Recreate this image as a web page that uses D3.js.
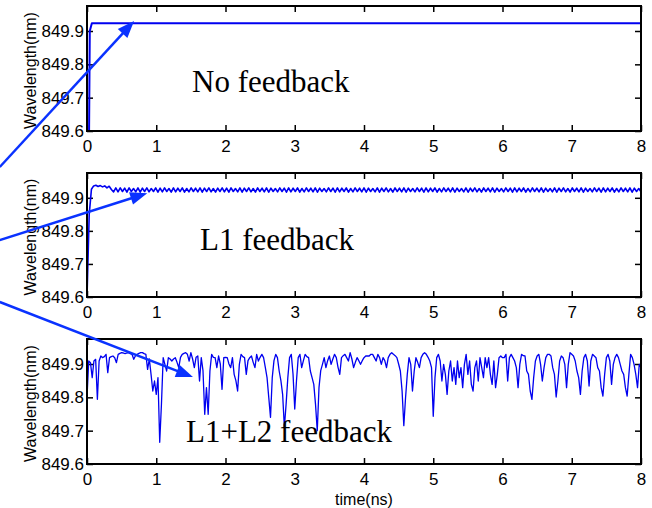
<!DOCTYPE html>
<html>
<head>
<meta charset="utf-8">
<script src="https://cdn.jsdelivr.net/npm/d3@7"></script>
<style>
    body { margin: 0; background: #fff; }
    .tick text { font-family: "Liberation Sans", Arial, sans-serif; font-size: 17px; fill: #000; }
    .tick line { stroke: #000; stroke-width: 1.5; }
</style>
</head>
<body>
<div id="chart"></div>
<script>
// axes
var xTicks = [0, 1, 2, 3, 4, 5, 6, 7, 8];
var yTicks = [849.6, 849.7, 849.8, 849.9];
var yBase = 849.6;   // the series below are stored in thousandths of nm above this

// no feedback: one switch-on step, then flat
var noFbTime = [0, 0.03, 0.04, 0.07, 8];
var noFbWave = [849.6, 849.6, 849.9, 849.923, 849.923];

// L1 feedback, sampled every 0.032 ns
var l1Step = 0.032;
var l1Wave = [0,250,326,336,338,334,337,333,336,330,335,325,318,330,
    318,330,319,329,317,330,319,328,318,330,317,329,319,330,318,328,319,330,317,329,
    318,330,319,328,317,330,318,329,319,330,317,328,318,330,319,329,318,330,317,329,
    319,330,318,328,317,329,319,330,318,329,317,330,319,328,318,330,317,329,319,330,
    318,328,317,330,319,329,318,330,317,329,319,328,318,330,319,329,317,330,318,329,
    319,330,317,328,318,330,319,329,318,330,317,329,319,328,318,330,319,329,317,330,
    318,329,319,330,317,328,318,330,319,329,318,330,317,329,319,328,318,330,317,329,
    319,330,318,328,317,330,319,329,318,330,317,329,319,328,318,330,319,329,317,330,
    318,329,319,330,317,328,318,330,319,329,318,330,317,329,319,328,318,330,317,329,
    319,330,318,328,317,330,319,329,318,330,317,329,319,328,318,330,319,329,317,330,
    318,329,319,330,317,328,318,330,319,329,318,330,317,329,319,328,318,330,317,329,
    319,330,318,328,317,330,319,329,318,330,317,329,319,328,318,330,319,329,317,330,
    318,329,319,330,317,328,318,330,319,329,318,330,317,329,319,328,318];

// L1+L2 feedback, sampled every 0.025 ns
var l2Step = 0.025;
var l2Wave = [200,309,304,259,309,314,194,309,324,319,322,329,274,319,322,324,319,304,329,332,334,
    333,331,333,334,331,329,314,325,329,332,334,334,331,329,284,315,269,219,249,209,
    259,65,179,319,299,279,319,315,309,315,319,305,289,320,329,332,334,329,309,334,
    315,289,320,324,249,319,280,149,229,149,279,329,320,319,289,324,300,224,319,320,
    319,300,289,319,269,250,219,299,329,322,319,269,310,319,324,305,289,329,309,320,
    329,319,290,259,199,140,259,310,329,319,279,250,209,110,179,259,319,329,270,165,
    250,319,329,289,310,329,322,319,279,259,239,179,100,229,280,299,319,289,310,324,
    299,315,329,319,290,269,319,325,329,319,309,334,315,289,305,319,310,299,310,319,
    324,324,324,329,329,319,309,329,319,299,319,310,289,319,329,334,329,325,319,300,
    279,219,115,199,269,319,299,219,279,319,305,289,319,329,334,329,320,309,289,143,
    259,319,329,309,249,299,269,209,279,309,249,289,239,309,259,289,229,299,329,269,
    309,239,219,289,309,249,319,289,259,319,289,319,269,239,309,229,269,319,324,319,
    319,329,249,319,329,319,309,289,229,299,329,325,324,279,269,219,194,259,309,324,
    329,299,249,289,319,329,329,324,289,269,201,249,309,324,319,299,229,299,334,329,
    324,309,279,259,209,279,319,329,309,234,309,329,324,319,289,279,229,204,269,319,
    329,309,239,299,319,329,319,299,279,269,229,204,269,329,319,299,269,229,299,289];

var panelLabels = ["No feedback", "L1 feedback", "L1+L2 feedback"];
// arrow tips (time, wavelength) and where the arrows come in from the left
var arrowTipT = [0.68, 0.87, 1.53];
var arrowTipW = [849.930, 849.914, 849.861];
var arrowTailT = [-1.26, -1.26, -1.26];
var arrowTailW = [849.492, 849.772, 850.086];

function toPoints(step, vals) {
    return vals.map(function (v, i) { return [i * step, yBase + v / 1000]; });
}

var series = [
    noFbTime.map(function (t, i) { return [t, noFbWave[i]]; }),
    toPoints(l1Step, l1Wave),
    toPoints(l2Step, l2Wave)
];

var W = 652, H = 508;
var left = 87, right = 641;
var panels = [
    {top: 6, bottom: 131, lx: 192, ly: 92, lw: 2},
    {top: 173, bottom: 297, lx: 200, ly: 250, lw: 1.6},
    {top: 339, bottom: 464, lx: 186, ly: 442, lw: 1.3}
];

var x = d3.scaleLinear().domain([0, 8]).range([left, right]);

var svg = d3.select("#chart").append("svg")
    .attr("width", W)
    .attr("height", H);

var lineColor = "#0000f0";
var arrowColor = "#0a32ff";
var scales = [];

panels.forEach(function (p, k) {
    var y = d3.scaleLinear().domain([849.6, 849.975]).range([p.bottom, p.top]);
    scales.push(y);
    var g = svg.append("g");

    // inward ticks on all four sides, like the original plot box
    g.append("g")
        .attr("transform", "translate(0," + p.bottom + ")")
        .call(d3.axisBottom(x).tickValues(xTicks).tickSizeInner(-6).tickSizeOuter(0).tickPadding(9).tickFormat(d3.format("d")))
        .call(function (a) { a.select(".domain").remove(); });
    g.append("g")
        .attr("transform", "translate(0," + p.top + ")")
        .call(d3.axisTop(x).tickValues(xTicks).tickSizeInner(-6).tickSizeOuter(0).tickFormat(""))
        .call(function (a) { a.select(".domain").remove(); });
    g.append("g")
        .attr("transform", "translate(" + left + ",0)")
        .call(d3.axisLeft(y).tickValues(yTicks).tickSizeInner(-6).tickSizeOuter(0).tickPadding(3).tickFormat(d3.format(".1f")))
        .call(function (a) { a.select(".domain").remove(); });
    g.append("g")
        .attr("transform", "translate(" + right + ",0)")
        .call(d3.axisRight(y).tickValues(yTicks).tickSizeInner(-6).tickSizeOuter(0).tickFormat(""))
        .call(function (a) { a.select(".domain").remove(); });

    var line = d3.line()
        .x(function (d) { return x(d[0]); })
        .y(function (d) { return y(d[1]); });

    g.append("path")
        .datum(series[k])
        .attr("fill", "none")
        .attr("stroke", lineColor)
        .attr("stroke-width", p.lw)
        .attr("stroke-linejoin", "round")
        .attr("d", line);

    g.append("rect")
        .attr("x", left)
        .attr("y", p.top)
        .attr("width", right - left)
        .attr("height", p.bottom - p.top)
        .attr("fill", "none")
        .attr("stroke", "#000")
        .attr("stroke-width", 2);

    g.append("text")
        .attr("transform", "translate(36," + ((p.top + p.bottom) / 2 + 2) + ") rotate(-90)")
        .attr("text-anchor", "middle")
        .style("font-family", "'Liberation Sans', Arial, sans-serif")
        .style("font-size", "16px")
        .text("Wavelength(nm)");

    g.append("text")
        .attr("x", p.lx)
        .attr("y", p.ly)
        .style("font-family", "'Liberation Serif', 'Times New Roman', serif")
        .style("font-size", "31px")
        .text(panelLabels[k]);
});

svg.append("text")
    .attr("x", (left + right) / 2)
    .attr("y", 505)
    .attr("text-anchor", "middle")
    .style("font-family", "'Liberation Sans', Arial, sans-serif")
    .style("font-size", "16px")
    .text("time(ns)");

// blue arrows pointing at each trace
var headLen = 17, headHalf = 6.5;
scales.forEach(function (y, k) {
    var x0 = x(arrowTailT[k]), y0 = y(arrowTailW[k]);
    var x1 = x(arrowTipT[k]), y1 = y(arrowTipW[k]);
    var ang = Math.atan2(y1 - y0, x1 - x0);
    var bx = x1 - headLen * Math.cos(ang), by = y1 - headLen * Math.sin(ang);
    svg.append("line")
        .attr("x1", x0).attr("y1", y0)
        .attr("x2", bx + 2 * Math.cos(ang)).attr("y2", by + 2 * Math.sin(ang))
        .attr("stroke", arrowColor)
        .attr("stroke-width", 2.5);
    var px = -Math.sin(ang) * headHalf, py = Math.cos(ang) * headHalf;
    svg.append("path")
        .attr("d", "M" + x1 + "," + y1 + "L" + (bx + px) + "," + (by + py) + "L" + (bx - px) + "," + (by - py) + "Z")
        .attr("fill", arrowColor);
});
</script>
</body>
</html>
